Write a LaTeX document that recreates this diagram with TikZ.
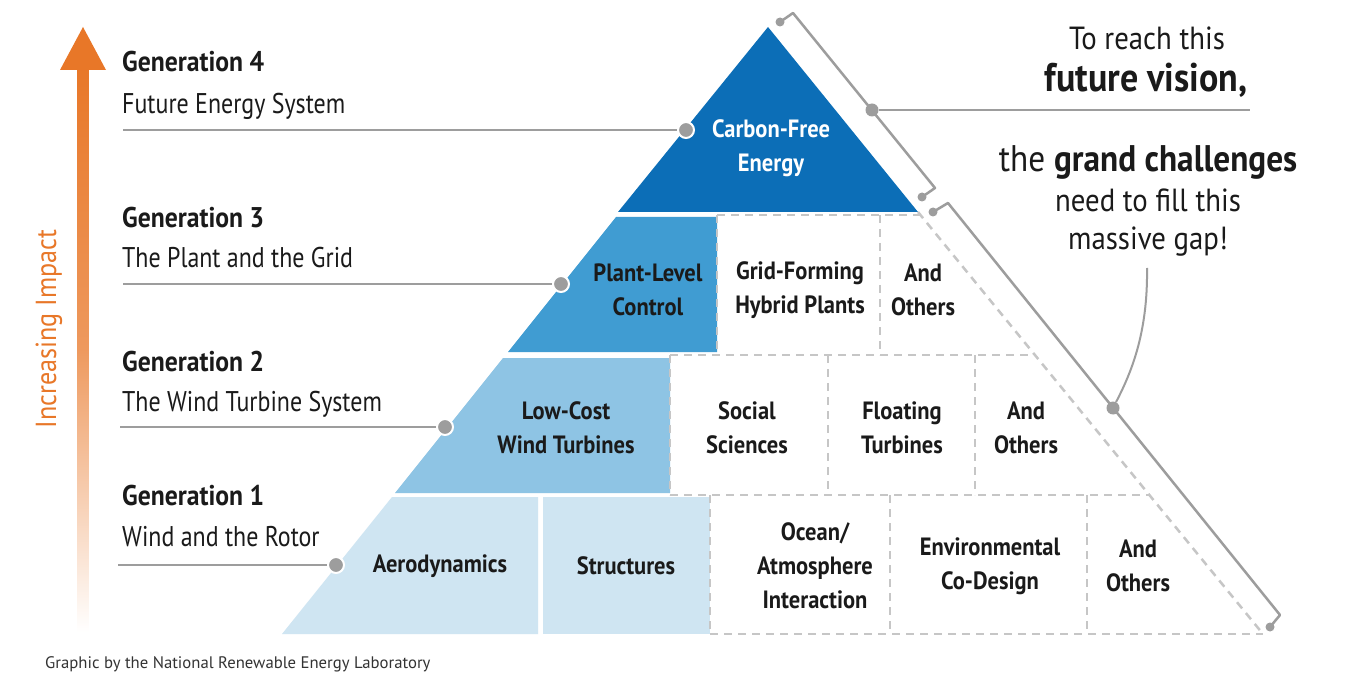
\documentclass[tikz,border=0pt]{standalone}
\usepackage{fontspec}
\setmainfont{PT Sans}[FakeStretch=0.9]
\newfontfamily\footfont{PT Sans}
\newfontfamily\subfont{PT Sans}[FakeStretch=0.84]
\definecolor{cfour}{RGB}{12,110,183}
\definecolor{cthree}{RGB}{64,156,210}
\definecolor{ctwo}{RGB}{142,196,228}
\definecolor{cone}{RGB}{207,229,242}
\definecolor{dgray}{RGB}{198,198,198}
\definecolor{lgray}{RGB}{157,157,157}
\definecolor{txt}{RGB}{26,26,26}
\definecolor{orng}{RGB}{232,119,40}
\begin{document}
\begin{tikzpicture}[x=1pt,y=-1pt,
  lbl/.style={font=\fontsize{25}{34}\selectfont\bfseries, align=center, text=txt, inner sep=0},
  wlbl/.style={lbl, text=white},
  gen/.style={anchor=base west, font=\fontsize{28.5}{32}\selectfont\bfseries, text=txt, inner sep=0},
  sub/.style={anchor=base west, font=\subfont\fontsize{28.5}{32}\selectfont, text=txt, inner sep=0},
  rtxt/.style={anchor=base, font=\fontsize{32}{36}\selectfont, text=txt, inner sep=0},
  dotw/.style={circle, fill=lgray, draw=white, line width=2pt, minimum size=16pt, inner sep=0},
  bdot/.style={circle, fill=lgray, minimum size=13pt, inner sep=0},
  sdot/.style={circle, fill=lgray, minimum size=9pt, inner sep=0},
  gline/.style={draw=lgray, line width=2.5pt},
  dline/.style={draw=dgray, line width=2.5pt, dash pattern=on 8pt off 6pt}]
\useasboundingbox (0,0) rectangle (1350,687);
\fill[white] (0,0) rectangle (1350,687);

% ---------- arrow ----------
\shade[top color=orng, bottom color=white, middle color=orng!75] (77.5,66) rectangle (88.5,632);
\fill[orng] (83,27) -- (106,70) -- (60,70) -- cycle;
\node[rotate=90, font=\fontsize{29}{34}\selectfont, text=orng, inner sep=0] (imp) at (49,329) {Increasing Impact};

% ---------- pyramid fills ----------
\fill[cfour] (768,27) -- (918,212) -- (618,212) -- cycle;
\fill[cthree] (616,217) -- (717,217) -- (717,352) -- (508,352) -- cycle;
\fill[ctwo] (503,358) -- (670,358) -- (670,493) -- (395,493) -- cycle;
\fill[cone] (392,497) -- (538,497) -- (538,634) -- (282,634) -- cycle;
\fill[cone] (543,497) -- (710,497) -- (710,634) -- (543,634) -- cycle;

% ---------- dashed cells ----------
\draw[dline] (717,215) -- (920,215);
\draw[dline] (670,355) -- (1035,355);
\draw[dline] (670,495) -- (1150,495);
\draw[dline] (710,634) -- (1263,634);
\draw[dline] (918,212) -- (1263,634);
\draw[dline] (717,215) -- (717,355);
\draw[dline] (880,215) -- (880,355);
\draw[dline] (670,355) -- (670,495);
\draw[dline] (828,355) -- (828,495);
\draw[dline] (975,355) -- (975,495);
\draw[dline] (710,495) -- (710,634);
\draw[dline] (890,495) -- (890,634);
\draw[dline] (1087,495) -- (1087,634);

% ---------- labels in pyramid ----------
\node[wlbl] (cf) at (771,148) {Carbon-Free\\Energy};
\node[lbl] (plc) at (648,290) {Plant-Level\\Control};
\node[lbl] (gfh) at (800,290) {Grid-Forming\\Hybrid Plants};
\node[lbl] (ao3) at (923,290) {And\\Others};
\node[lbl] (lcw) at (566,428) {Low-Cost\\Wind Turbines};
\node[lbl] (soc) at (747,428) {Social\\Sciences};
\node[lbl] (flt) at (902,428) {Floating\\Turbines};
\node[lbl] (ao2) at (1026,428) {And\\Others};
\node[lbl] (aer) at (440,566) {Aerodynamics};
\node[lbl] (str) at (626,566) {Structures};
\node[lbl] (oce) at (815,566) {Ocean/\\Atmosphere\\Interaction};
\node[lbl] (env) at (990,566) {Environmental\\Co-Design};
\node[lbl] (ao1) at (1138,566) {And\\Others};

% ---------- generation labels ----------
\node[gen] (g4) at (122,72) {Generation 4};
\node[sub] (s4) at (122,114) {Future Energy System};
\node[gen] (g3) at (122,228) {Generation 3};
\node[sub] (s3) at (122,268) {The Plant and the Grid};
\node[gen] (g2) at (122,371) {Generation 2};
\node[sub] (s2) at (122,411) {The Wind Turbine System};
\node[gen] (g1) at (122,505) {Generation 1};
\node[sub] (s1) at (122,546) {Wind and the Rotor};

\coordinate (l4) at (123,130);
\coordinate (l3) at (123,284);
\coordinate (l2) at (120,427);
\coordinate (l1) at (118,565);
\node[dotw] (d4) at (686,130) {};
\node[dotw] (d3) at (561,284) {};
\node[dotw] (d2) at (445,427) {};
\node[dotw] (d1) at (336,565) {};
\draw[gline] (l4) -- (d4.west);
\draw[gline] (l3) -- (d3.west);
\draw[gline] (l2) -- (d2.west);
\draw[gline] (l1) -- (d1.west);

% ---------- brackets ----------
\node[sdot] (b1s) at (780,22) {};
\coordinate (b1c) at (793,13);
\coordinate (b1e) at (935,188);
\node[sdot] (b1d) at (922,197) {};
\draw[gline, line join=round] (b1s.center) -- (b1c) -- (b1e) -- (b1d.center);
\node[sdot] (b2s) at (933,212) {};
\coordinate (b2c) at (948,203);
\coordinate (b2e) at (1280,615);
\node[sdot] (b2d) at (1270,627) {};
\draw[gline, line join=round] (b2s.center) -- (b2c) -- (b2e) -- (b2d.center);

\node[bdot] (m1) at (872,110) {};
\coordinate (m1r) at (1250,110);
\draw[gline] (m1) -- (m1r);
\node[bdot] (m2) at (1113,408) {};
\coordinate (m2t) at (1147,268);
\draw[draw=lgray, line width=2pt] (m2t) .. controls (1148,335) and (1130,375) .. (m2);

% ---------- right text ----------
\node[rtxt] (t1) at (1147,50) {To reach this};
\node[rtxt, font=\fontsize{40}{42}\selectfont\bfseries] (t2) at (1146,92) {future vision,};
\node[rtxt, font=\fontsize{37}{40}\selectfont] (t3) at (1148,172) {the \textbf{grand challenges}};
\node[rtxt] (t4) at (1148,212) {need to fill this};
\node[rtxt] (t5) at (1148,250) {massive gap!};

% ---------- footer ----------
\node[anchor=base west, font=\footfont\fontsize{16.7}{19}\selectfont, text=black!80, inner sep=0] (ft) at (45,668) {Graphic by the National Renewable Energy Laboratory};
\end{tikzpicture}
\end{document}
